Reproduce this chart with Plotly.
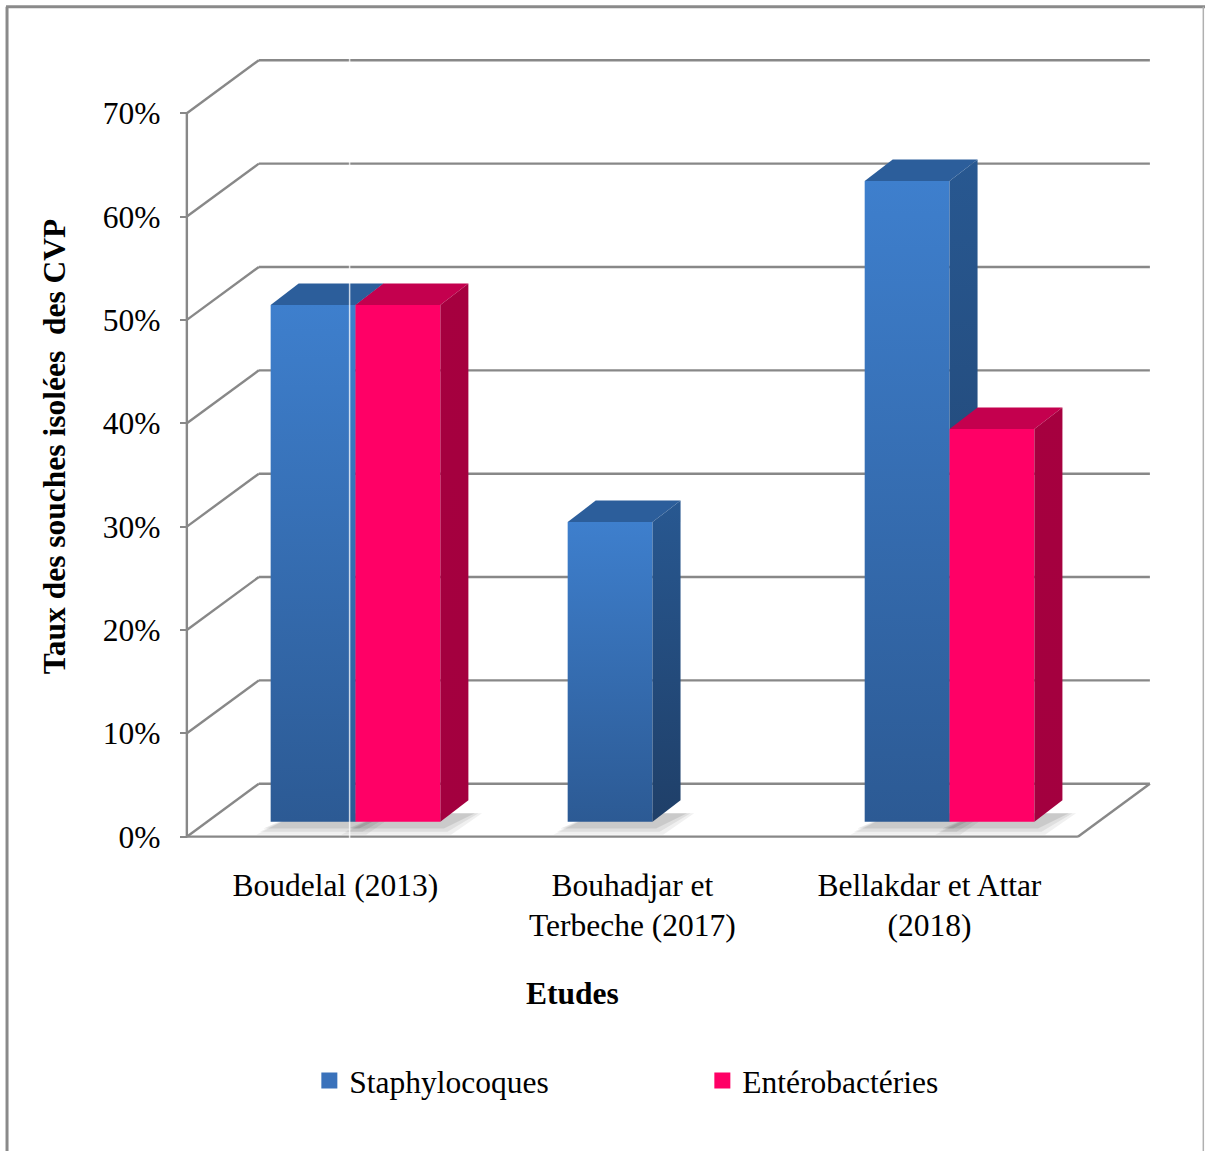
import plotly.graph_objects as go

# ---- data -------------------------------------------------------------
studies = ["Boudelal (2013)", "Bouhadjar et<br>Terbeche (2017)", "Bellakdar et Attar<br>(2018)"]
staphylocoques = [50, 29, 62]          # % of isolated strains
enterobacteries = [50, None, 38]       # % of isolated strains (none reported for 2017)
series_names = ["Staphylocoques", "Entérobactéries"]
y_ticks = [0, 10, 20, 30, 40, 50, 60, 70]
y_ticktext = [f"{v}%" for v in y_ticks]

# ---- oblique 3-D projection parameters (in axis units) ---------------
DEPTH_X, DEPTH_Y = 0.2424, 5.12        # depth of the back wall
SHIFT_F = 0.28                         # bars sit this far back into the depth
BAR_DX, BAR_DY = 0.0943, 2.08          # depth of each bar
BAR_W = 1 / 3.5                        # gap width 150 %
SHIFT_X, SHIFT_Y = SHIFT_F * DEPTH_X, SHIFT_F * DEPTH_Y

FONT = "Times New Roman, Liberation Serif, serif"
GRID = "#888888"

STAPH = dict(front=("#2c5a94", "#3e7fcd"), top="#2c5e9b", side=("#1f3f68", "#285891"))
ENTERO = dict(front=("#ff0066", "#ff0066"), top="#c4004e", side=("#a3003f", "#a6003f"))
styles = [STAPH, ENTERO]

fig = go.Figure()


def poly(pts, color=None, grad=None):
    xs = [p[0] for p in pts] + [pts[0][0]]
    ys = [p[1] for p in pts] + [pts[0][1]]
    kw = dict(x=xs, y=ys, mode="lines", fill="toself", line=dict(width=0),
              hoverinfo="skip", showlegend=False)
    if grad:
        kw["fillgradient"] = dict(type="vertical", colorscale=[[0, grad[0]], [1, grad[1]]])
    else:
        kw["fillcolor"] = color
    fig.add_trace(go.Scatter(**kw))


# soft shadows on the floor under every bar
for s, values in enumerate([staphylocoques, enterobacteries]):
    for c, v in enumerate(values):
        if not v:
            continue
        xc = c + 0.5 + SHIFT_X
        x0 = xc - BAR_W + s * BAR_W
        x1 = x0 + BAR_W
        b = SHIFT_Y
        for k, a in enumerate([0.06, 0.07, 0.09]):
            e = 0.012 * (3 - k)
            ey = 0.3 * (3 - k)
            pts = [(x0 - e - 0.012, b - ey - 0.35), (x1 + e, b - ey - 0.35),
                   (x1 + BAR_DX + e + 0.01, b + BAR_DY * 0.4), (x0 + BAR_DX, b + BAR_DY * 0.4)]
            poly(pts, color=f"rgba(0,0,0,{a})")

# bars: front face, top face, side face
for s, values in enumerate([staphylocoques, enterobacteries]):
    st = styles[s]
    for c, v in enumerate(values):
        if not v:
            continue
        xc = c + 0.5 + SHIFT_X
        x0 = xc - BAR_W + s * BAR_W
        x1 = x0 + BAR_W
        b = SHIFT_Y
        t = SHIFT_Y + v
        poly([(x0, b), (x1, b), (x1, t), (x0, t)], grad=st["front"])
        poly([(x0, t), (x1, t), (x1 + BAR_DX, t + BAR_DY), (x0 + BAR_DX, t + BAR_DY)], color=st["top"])
        poly([(x1, b), (x1 + BAR_DX, b + BAR_DY), (x1 + BAR_DX, t + BAR_DY), (x1, t)], grad=st["side"])

# legend entries
for name, col in zip(series_names, ["#3a72bb", "#ff0066"]):
    fig.add_trace(go.Scatter(x=[None], y=[None], mode="markers", name=name,
                             marker=dict(symbol="square", size=17, color=col)))

# walls, gridlines and floor
shapes = []
n_cat = len(studies)
for v in y_ticks:
    shapes.append(dict(type="line", x0=0, y0=v, x1=DEPTH_X, y1=v + DEPTH_Y))
    shapes.append(dict(type="line", x0=DEPTH_X, y0=v + DEPTH_Y, x1=n_cat + DEPTH_X, y1=v + DEPTH_Y))
shapes.append(dict(type="line", x0=0, y0=0, x1=0, y1=y_ticks[-1]))
shapes.append(dict(type="line", x0=0, y0=0, x1=n_cat, y1=0))
shapes.append(dict(type="line", x0=n_cat, y0=0, x1=n_cat + DEPTH_X, y1=DEPTH_Y))
for sh in shapes:
    sh.update(xref="x", yref="y", layer="below", line=dict(color=GRID, width=2.4))

# thin light seam crossing the first group
shapes.append(dict(type="line", xref="x", yref="y", x0=0.548, x1=0.548, y0=-0.4,
                   y1=y_ticks[-1] + DEPTH_Y + 0.3, layer="above",
                   line=dict(color="rgba(255,255,255,0.75)", width=1.5)))

# outer frame
frame = "#8a8a8a"
shapes += [
    dict(type="line", xref="paper", yref="paper", x0=-0.1658, x1=-0.1658, y0=-0.4, y1=1.049,
         line=dict(color=frame, width=3)),
    dict(type="line", xref="paper", yref="paper", x0=-0.1668, x1=1.04, y0=1.049, y1=1.049,
         line=dict(color=frame, width=3)),
    dict(type="line", xref="paper", yref="paper", x0=1.0365, x1=1.0365, y0=-0.4, y1=1.049,
         line=dict(color="#b0b0b0", width=1.5)),
]

fig.update_layout(
    width=1205, height=1151,
    margin=dict(l=172, r=38, t=46, b=304),
    paper_bgcolor="white", plot_bgcolor="white",
    font=dict(family=FONT, size=31.5, color="black"),
    shapes=shapes,
    showlegend=True,
    legend=dict(orientation="h", x=0.13 + 8 / 995, y=-0.2915, xanchor="left", yanchor="middle",
                entrywidth=348, entrywidthmode="pixels", itemwidth=30,
                font=dict(family=FONT, size=31.5), bgcolor="rgba(0,0,0,0)",
                itemclick=False, itemdoubleclick=False),
    xaxis=dict(range=[-0.05, 3.30], showgrid=False, zeroline=False, showline=False,
               tickvals=[0.5, 1.5, 2.5], ticktext=studies, ticks="",
               ticklabelstandoff=16, fixedrange=True),
    yaxis=dict(range=[-1, 76.5], showgrid=False, zeroline=False, showline=False,
               tickvals=y_ticks, ticktext=y_ticktext, ticks="outside", ticklen=7,
               tickwidth=2, tickcolor=GRID, anchor="free", position=0.01493,
               ticklabelstandoff=13, fixedrange=True,
               title=dict(text="<b>Taux des souches isolées&nbsp; des CVP</b>", standoff=26,
                          font=dict(family=FONT, size=31.5))),
    annotations=[dict(text="<b>Etudes</b>", xref="paper", yref="paper",
                      x=(572 - 172) / 995, y=(847 - 993) / 801, showarrow=False,
                      xanchor="center", yanchor="middle", font=dict(family=FONT, size=31.5))],
    hovermode=False,
)

fig.write_html("out.html")
